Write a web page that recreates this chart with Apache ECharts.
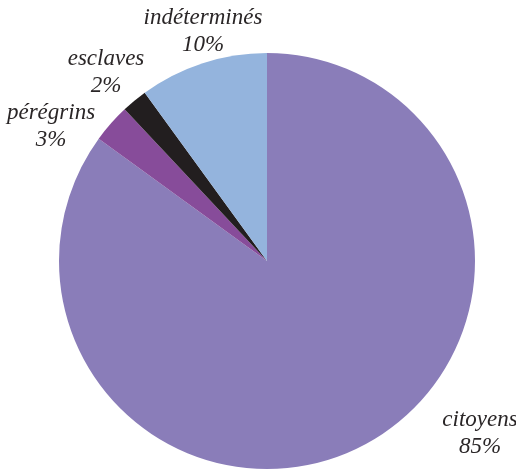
<!DOCTYPE html>
<html>
<head>
<meta charset="utf-8">
<script src="https://cdn.jsdelivr.net/npm/echarts@6/dist/echarts.min.js"></script>
<style>html,body{margin:0;padding:0;background:#fff}#c{width:516px;height:469px}</style>
</head>
<body>
<div id="c"></div>
<script>
const categories = ['citoyens', 'pérégrins', 'esclaves', 'indéterminés'];
const values = [85, 3, 2, 10];
const colors = ['#8A7DB9', '#874C9A', '#221E1F', '#94B4DD'];
// label anchor positions (centre of the two-line label)
const labelPos = [[480, 433], [51, 126], [106, 72], [203, 31]];

const chart = echarts.init(document.getElementById('c'), null, {renderer: 'canvas'});
chart.setOption({
  animation: false,
  backgroundColor: '#fff',
  series: [{
    type: 'pie',
    left: 0, right: 0, top: 0, bottom: 0,
    center: [267, 261],
    radius: 208,
    startAngle: 90,
    clockwise: true,
    avoidLabelOverlap: false,
    data: categories.map((n, i) => ({
      name: n, value: values[i],
      itemStyle: {color: colors[i]}
    })),
    itemStyle: {borderWidth: 0},
    label: {
      show: true,
      position: 'outside',
      formatter: '{b}\n{d}%',
      fontFamily: '"Liberation Serif", serif',
      fontStyle: 'italic',
      fontWeight: 'normal',
      fontSize: 23,
      lineHeight: 27,
      color: '#2a2627',
      align: 'center',
      overflow: 'none',
      width: 200
    },
    labelLine: {show: false},
    labelLayout: function (p) {
      const pos = labelPos[p.dataIndex];
      return {x: pos[0], y: pos[1], align: 'center', verticalAlign: 'middle'};
    }
  }]
});
</script>
</body>
</html>
